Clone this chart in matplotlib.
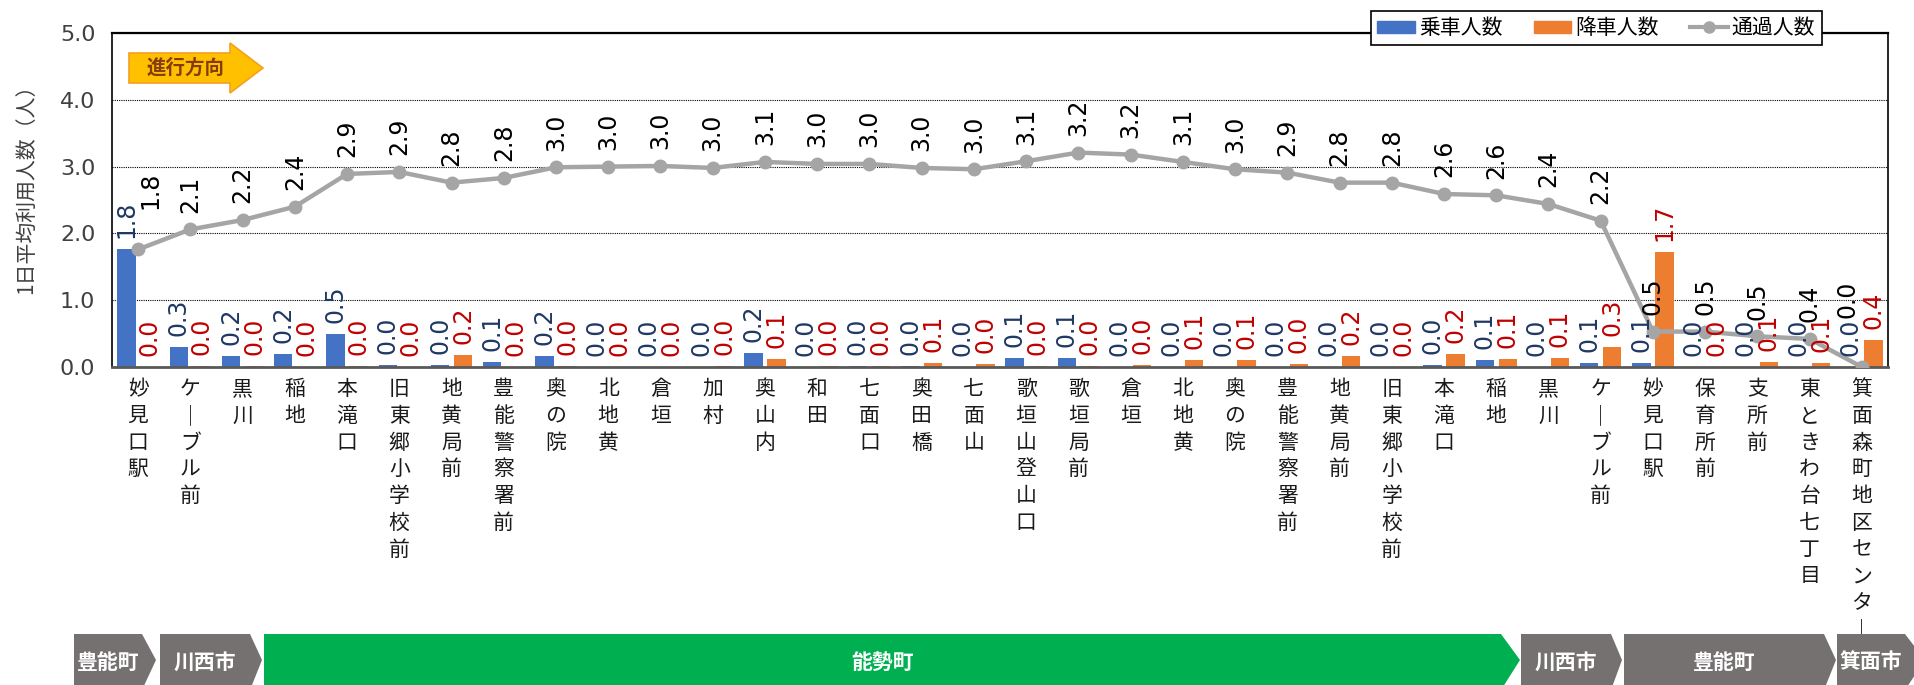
import numpy as np
import matplotlib
matplotlib.use('Agg')
import matplotlib.pyplot as plt
from matplotlib.patches import Polygon, Patch
from matplotlib.lines import Line2D
from matplotlib.font_manager import FontProperties

# ---------------- data ----------------
stops = ['妙見口駅', 'ケーブル前', '黒川', '稲地', '本滝口', '旧東郷小学校前', '地黄局前',
         '豊能警察署前', '奥の院', '北地黄', '倉垣', '加村', '奥山内', '和田', '七面口',
         '奥田橋', '七面山', '歌垣山登山口', '歌垣局前', '倉垣', '北地黄', '奥の院',
         '豊能警察署前', '地黄局前', '旧東郷小学校前', '本滝口', '稲地', '黒川',
         'ケーブル前', '妙見口駅', '保育所前', '支所前', '東ときわ台七丁目', '箕面森町地区センター']

boarding = [1.76, 0.30, 0.16, 0.20, 0.49, 0.03, 0.03, 0.08, 0.16, 0.00, 0.00, 0.00,
            0.21, 0.00, 0.02, 0.01, 0.00, 0.14, 0.14, 0.00, 0.00, 0.00, 0.00, 0.00,
            0.00, 0.03, 0.10, 0.00, 0.06, 0.06, 0.00, 0.00, 0.00, 0.00]

alighting = [0.00, 0.01, 0.01, 0.00, 0.01, 0.00, 0.18, 0.00, 0.02, 0.00, 0.00, 0.02,
             0.12, 0.02, 0.02, 0.06, 0.04, 0.01, 0.01, 0.03, 0.10, 0.10, 0.04, 0.16,
             0.00, 0.20, 0.12, 0.13, 0.30, 1.72, 0.00, 0.07, 0.06, 0.40]

passing = [1.76, 2.06, 2.20, 2.40, 2.89, 2.92, 2.76, 2.83, 2.99, 3.00, 3.01, 2.98,
           3.07, 3.04, 3.04, 2.98, 2.96, 3.08, 3.21, 3.18, 3.07, 2.96, 2.91, 2.76,
           2.76, 2.59, 2.57, 2.44, 2.19, 0.53, 0.53, 0.46, 0.42, 0.00]

series_names = ['乗車人数', '降車人数', '通過人数']
yticks = [0.0, 1.0, 2.0, 3.0, 4.0, 5.0]
ylabel = '1日平均利用人数（人）'
direction_text = '進行方向'
regions = ['豊能町', '川西市', '能勢町', '川西市', '豊能町', '箕面市']

# ---------------- layout / style ----------------
W, H = 1914, 685
CJK = ['Noto Sans CJK JP', 'DejaVu Sans']
NUM = ['DejaVu Sans']
C_BLUE, C_ORANGE, C_GRAY = '#4472C4', '#ED7D31', '#A5A5A5'
C_BLUE_TXT, C_RED_TXT = '#1F3864', '#C00000'

region_px = [(74, 142, 156), (160, 250, 262), (264, 1501, 1520),
             (1521, 1611, 1622), (1624, 1824, 1836), (1837, 1905, 1925)]
region_colors = ['#767171', '#767171', '#00B050', '#767171', '#767171', '#767171']
line_label_offsets = {0: (9, 29), 33: (-10, 35)}

def fp(x, y):
    return (x / W, 1 - y / H)

fig = plt.figure(figsize=(W / 100, H / 100), dpi=100)
ax = fig.add_axes([112 / W, 1 - 367 / H, 1776 / W, 334 / H])

x = np.arange(len(stops))
bw = 0.35
ax.bar(x - 0.22, boarding, bw, color=C_BLUE, zorder=2)
ax.bar(x + 0.22, alighting, bw, color=C_ORANGE, zorder=2)
ax.plot(x, passing, color=C_GRAY, lw=3.2, marker='o', ms=9, zorder=3)

for i in range(len(stops)):
    ax.annotate(f'{boarding[i]:.1f}', (x[i] - 0.22, boarding[i]), xytext=(0, 8),
                textcoords='offset points', rotation=90, ha='center', va='bottom',
                fontsize=17, color=C_BLUE_TXT, family=NUM, zorder=4)
    ax.annotate(f'{alighting[i]:.1f}', (x[i] + 0.22, alighting[i]), xytext=(0, 8),
                textcoords='offset points', rotation=90, ha='center', va='bottom',
                fontsize=17, color=C_RED_TXT, family=NUM, zorder=4)
    dx, dy = line_label_offsets.get(i, (0, 12))
    ax.annotate(f'{passing[i]:.1f}', (x[i], passing[i]), xytext=(dx, dy),
                textcoords='offset points', rotation=90, ha='center', va='bottom',
                fontsize=17, color='black', family=NUM, zorder=4)

ax.set_xlim(-0.5, len(stops) - 0.5)
ax.set_ylim(0, 5)
ax.set_yticks(yticks)
ax.set_yticklabels([f'{v:.1f}' for v in yticks], fontsize=16, family=NUM, color='#404040')
ax.set_xticks(x)
ax.set_xticklabels(['\n'.join(s.replace('ー', '｜')) for s in stops], fontsize=15,
                   family=CJK, color='#1a1a1a', linespacing=1.28, va='top')
ax.tick_params(axis='both', length=0)
ax.tick_params(axis='x', pad=8)
ax.tick_params(axis='y', pad=12)

ax.yaxis.grid(True, linestyle=(0, (1, 1)), color='black', lw=0.8)
ax.set_axisbelow(True)
for s in ['left', 'right', 'top']:
    ax.spines[s].set_color('black')
    ax.spines[s].set_linewidth(1.2)
ax.spines['top'].set_linewidth(1.6)
ax.spines['bottom'].set_color('#595959')
ax.spines['bottom'].set_linewidth(2)

ax.set_ylabel(ylabel, fontsize=15, family=CJK, color='#404040')
ax.yaxis.set_label_coords(-0.042, 0.548)

# legend
handles = [Patch(color=C_BLUE), Patch(color=C_ORANGE),
           Line2D([0], [0], color=C_GRAY, lw=3, marker='o', ms=8)]
leg = fig.legend(handles, series_names, loc='center', bbox_to_anchor=(0.834, 0.959),
                 ncol=3, frameon=True, fancybox=False, edgecolor='black', framealpha=1,
                 prop=FontProperties(family=CJK, size=15), handlelength=1.8,
                 handleheight=0.5, columnspacing=1.5, handletextpad=0.2, borderpad=0.3)
leg.get_frame().set_linewidth(1.2)

# direction arrow
arrow_pts = [fp(129, 53), fp(230, 53), fp(230, 43), fp(263, 68), fp(230, 93),
             fp(230, 83), fp(129, 83)]
fig.add_artist(Polygon(arrow_pts, closed=True, transform=fig.transFigure,
                       fc='#FFC000', ec='#F4A020', lw=1.2))
fig.text(*fp(186, 68), direction_text, ha='center', va='center', fontsize=14,
         family=CJK, weight='bold', color='#843C0C')

# region band
yt, yb, ym = 634, 690, 660
for (x0, x1, xp), name, col in zip(region_px, regions, region_colors):
    pts = [fp(x0, yt), fp(x1, yt), fp(xp, ym), fp(x1, yb), fp(x0, yb)]
    fig.add_artist(Polygon(pts, closed=True, transform=fig.transFigure, fc=col, ec='none'))
    fig.text(*fp((x0 + x1) / 2, 662), name, ha='center', va='center', fontsize=15,
             family=CJK, weight='bold', color='white')

fig.savefig('out.png', dpi=100)
